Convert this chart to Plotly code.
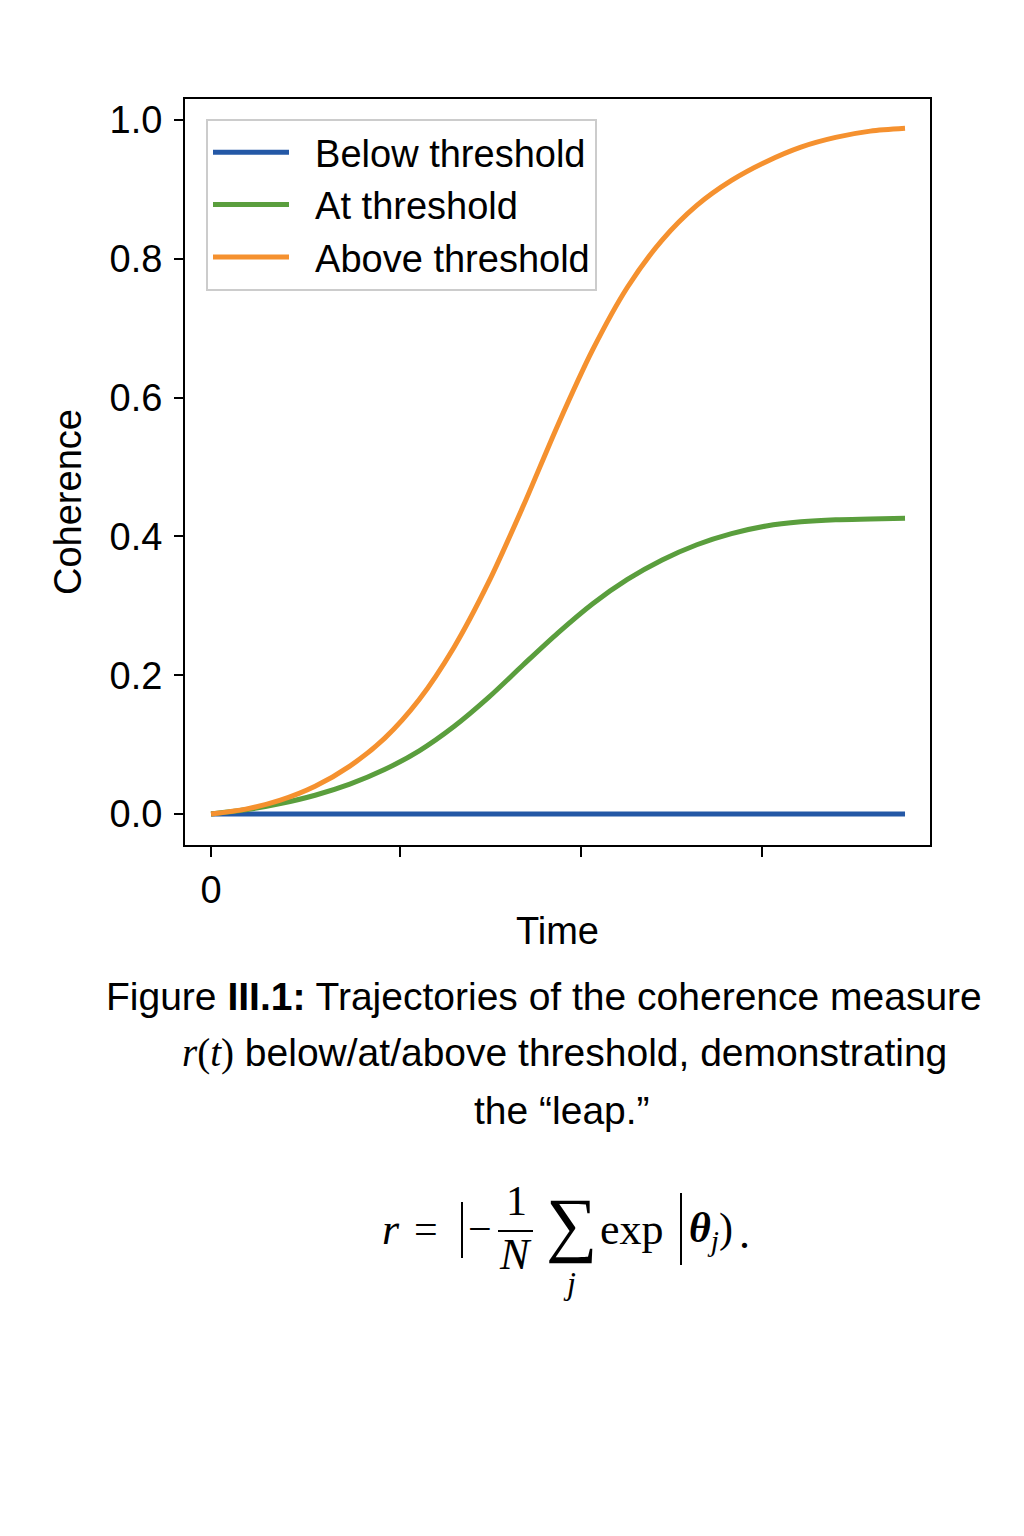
import plotly.graph_objects as go

# Time grid and coherence r(t)
TIME = [0, 0.5, 1.0, 1.5, 2.0, 2.5, 3.0, 3.5, 4.0, 4.5, 5.0,
        5.5, 6.0, 6.5, 7.0, 7.5, 8.0, 8.5, 9.0, 9.5, 10.0]
R_BELOW = [0.0] * len(TIME)
R_AT = [0.0, 0.006, 0.015, 0.027, 0.043, 0.064, 0.091, 0.126, 0.168, 0.215, 0.261,
        0.303, 0.338, 0.366, 0.388, 0.404, 0.415, 0.421, 0.424, 0.425, 0.426]
R_ABOVE = [0.0, 0.007, 0.020, 0.040, 0.069, 0.109, 0.165, 0.240, 0.334, 0.444, 0.561,
           0.669, 0.759, 0.827, 0.877, 0.913, 0.940, 0.961, 0.975, 0.984, 0.988]

SERIES_NAMES = ["Below threshold", "At threshold", "Above threshold"]
SERIES_COLORS = ["#2458a6", "#5a9e3d", "#f5912f"]

X_TICKS = [0]
X_TICK_TEXT = ["0"]
X_UNLABELED_TICKS = [2.72, 5.33, 7.94]
Y_TICKS = [0.0, 0.2, 0.4, 0.6, 0.8, 1.0]

SANS = "Liberation Sans, Arial, sans-serif"
SERIF = "Liberation Serif, DejaVu Serif, serif"

# the page has an 8px body margin; plot area in page pixels
PAD = 8
L, R, T, B = 185 - PAD, 930 - PAD, 99 - PAD, 845 - PAD


def at(px, py):
    """page pixel position -> paper coordinates"""
    return (px - PAD - L) / (R - L), (B - (py - PAD)) / (B - T)


fig = go.Figure()
for name, color, vals in zip(SERIES_NAMES, SERIES_COLORS, [R_BELOW, R_AT, R_ABOVE]):
    fig.add_trace(go.Scatter(
        x=TIME, y=vals, name="\u00a0\u00a0" + name, mode="lines",
        line=dict(color=color, width=5, shape="spline", smoothing=0.8),
    ))

fig.update_layout(
    width=1024, height=1536,
    margin=dict(l=L, r=1024 - R, t=T, b=1536 - B),
    paper_bgcolor="white", plot_bgcolor="white",
    font=dict(family=SANS, size=38, color="black"),
    showlegend=True,
    legend=dict(
        x=at(206, 0)[0], y=at(0, 119)[1], xanchor="left", yanchor="top",
        bgcolor="white", bordercolor="#cccccc", borderwidth=2,
        font=dict(family=SANS, size=38), itemwidth=76,
    ),
)
fig.update_xaxes(
    range=[-0.375, 10.36], tickvals=X_TICKS, ticktext=X_TICK_TEXT,
    showline=True, linecolor="black", linewidth=2, mirror=True,
    ticks="outside", ticklen=10, tickwidth=2, tickcolor="black",
    minor=dict(tickvals=X_UNLABELED_TICKS, ticks="outside", ticklen=10,
               tickwidth=2, tickcolor="black", showgrid=False),
    showgrid=False, zeroline=False,
    title=dict(text="Time", standoff=8, font=dict(size=38)),
)
fig.update_yaxes(
    range=[-0.0447, 1.0303], tickvals=Y_TICKS, tickformat=".1f",
    showline=True, linecolor="black", linewidth=2, mirror=True,
    ticks="outside", ticklen=9, tickwidth=2, tickcolor="black",
    ticklabelstandoff=4,
    showgrid=False, zeroline=False,
)

# y-axis title, placed a little below the axis middle as in the reference
x, y = at(68, 502)
fig.add_annotation(x=x, y=y, xref="paper", yref="paper", text="Coherence",
                   textangle=-90, showarrow=False, xanchor="center", yanchor="middle",
                   font=dict(family=SANS, size=38, color="black"))

# caption
mi = f'<span style="font-family:{SERIF}"><i>'
caption = [
    (544, 997, "Figure <b>III.1:</b> Trajectories of the coherence measure"),
    (564, 1053, f"{mi}r</i>(<i>t</i>)</span> below/at/above threshold, demonstrating"),
    (562, 1110, "the \u201cleap.\u201d"),
]
for px, py, txt in caption:
    x, y = at(px, py)
    fig.add_annotation(x=x, y=y, xref="paper", yref="paper", text=txt,
                       showarrow=False, xanchor="center", yanchor="middle",
                       font=dict(family=SANS, size=39, color="black"))

# formula  r = |−(1/N) Σ_j exp |θ_j) .
formula = [
    (391, 1229, "<i>r</i>", 44),
    (426, 1229, "=", 42),
    (480, 1229, "\u2212", 42),
    (516, 1201, "1", 42),
    (515, 1254, "<i>N</i>", 44),
    (571, 1224, "\u2211", 72),
    (569, 1283, "<i>j</i>", 32),
    (632, 1229, "exp", 44),
    (711, 1231, "<b><i>\u03b8</i></b><sub><i>j</i></sub>)", 42),
    (744, 1233, ".", 44),
]
for px, py, txt, size in formula:
    x, y = at(px, py)
    fig.add_annotation(x=x, y=y, xref="paper", yref="paper", text=txt,
                       showarrow=False, xanchor="center", yanchor="middle",
                       font=dict(family=SERIF, size=size, color="black"))

# fraction bar and the two delimiters
for (x0, y0), (x1, y1) in [(at(498, 1231), at(533, 1231)),
                           (at(462, 1202), at(462, 1258)),
                           (at(681, 1193), at(681, 1265))]:
    fig.add_shape(type="line", xref="paper", yref="paper",
                  x0=x0, y0=y0, x1=x1, y1=y1, line=dict(color="black", width=2))

fig.write_html("out.html")
